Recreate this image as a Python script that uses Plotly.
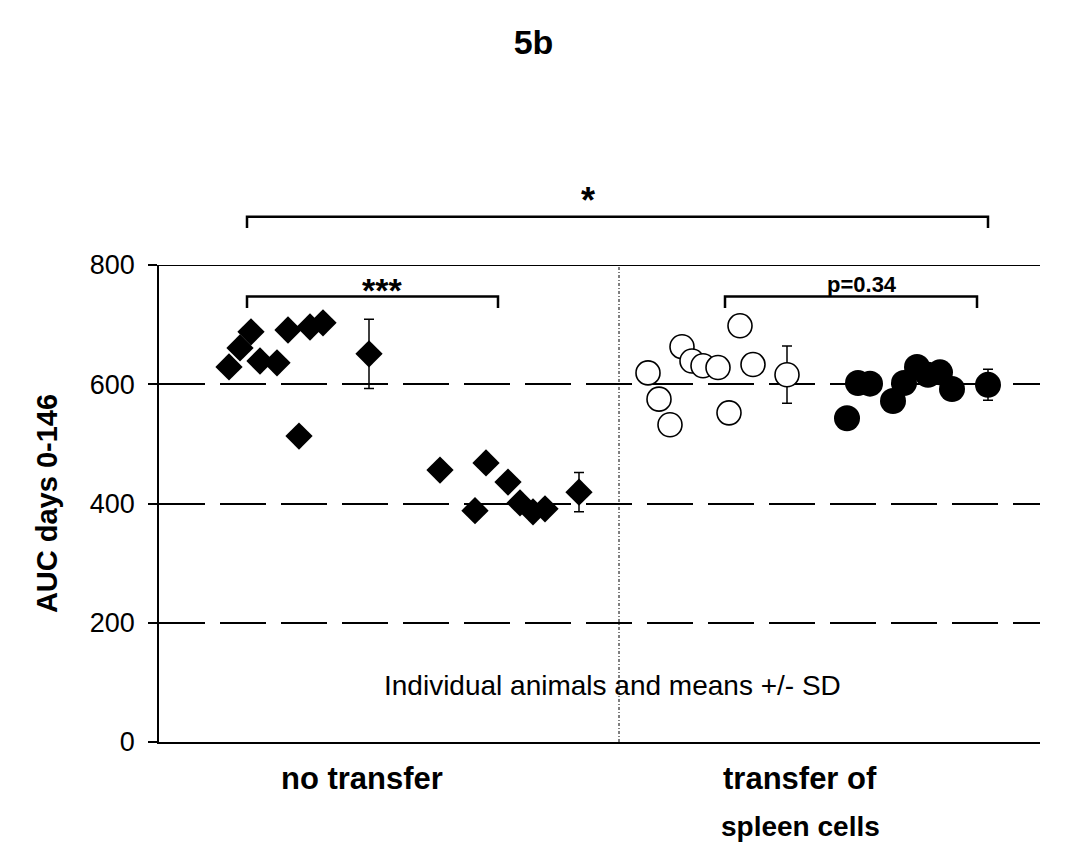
import plotly.graph_objects as go

# ---------------- data ----------------
categories = ["no transfer", "transfer of", "spleen cells"]
category_x = [20.3, 64.1, 64.1]

# group 1: no transfer, high (diamonds)
g1_x = [7.0, 8.1, 9.2, 10.1, 11.8, 12.9, 15.1, 16.4, 14.0]
g1_y = [629, 661, 688, 639, 636, 691, 696, 703, 513]
g1_mean_x, g1_mean, g1_sd = 21.0, 651, 58

# group 2: no transfer, low (diamonds)
g2_x = [28.1, 32.7, 31.6, 34.9, 36.1, 37.4, 38.6]
g2_y = [456, 468, 388, 436, 401, 386, 391]
g2_mean_x, g2_mean, g2_sd = 42.0, 419, 33

# group 3: transfer of spleen cells (open circles)
g3_x = [48.9, 50.0, 51.1, 52.3, 53.3, 54.4, 55.9, 57.0, 58.1, 59.4]
g3_y = [619, 575, 532, 663, 639, 631, 628, 552, 698, 633]
g3_mean_x, g3_mean, g3_sd = 62.8, 616, 48

# group 4: transfer of spleen cells (filled circles)
g4_x = [68.8, 69.9, 71.1, 73.4, 74.5, 75.8, 76.9, 78.1, 79.3]
g4_y = [543, 602, 601, 572, 602, 629, 616, 620, 592]
g4_mean_x, g4_mean, g4_sd = 82.9, 599, 26

y_ticks = [0, 200, 400, 600, 800]
X_MAX = 88.1
Y_MAX = 800
divider_x = 46.0

FONT = "Arial, Liberation Sans, sans-serif"
PLOT_H = 477  # plot area height in px (for offsets below the axis)

fig = go.Figure()

diamond = dict(symbol="diamond", size=21, color="black", line=dict(width=0))
open_circ = dict(symbol="circle", size=24, color="white", line=dict(color="black", width=1.6))
fill_circ = dict(symbol="circle", size=26, color="black", line=dict(width=0))


def add_group(xs, ys, mx, m, sd, marker):
    fig.add_trace(go.Scatter(x=xs, y=ys, mode="markers", marker=marker,
                             showlegend=False, cliponaxis=False, hoverinfo="x+y"))
    fig.add_trace(go.Scatter(x=[mx], y=[m], mode="markers", marker=marker,
                             error_y=dict(type="data", array=[sd], color="black",
                                          thickness=1.5, width=5),
                             showlegend=False, cliponaxis=False))


add_group(g1_x, g1_y, g1_mean_x, g1_mean, g1_sd, diamond)
add_group(g2_x, g2_y, g2_mean_x, g2_mean, g2_sd, diamond)
add_group(g3_x, g3_y, g3_mean_x, g3_mean, g3_sd, open_circ)
add_group(g4_x, g4_y, g4_mean_x, g4_mean, g4_sd, fill_circ)

shapes = []
# top border line at 800
shapes.append(dict(type="line", xref="x", yref="y", x0=0, x1=X_MAX, y0=800, y1=800,
                   line=dict(color="black", width=2), layer="below"))
# vertical divider
shapes.append(dict(type="line", xref="x", yref="y", x0=divider_x, x1=divider_x, y0=0, y1=800,
                   line=dict(color="black", width=1, dash="3px,2px,1px,2px"), layer="below"))


def bracket(x0, x1, ytop, ybot):
    p = lambda v: v / Y_MAX
    shapes.append(dict(type="path", xref="x", yref="paper",
                       path=f"M {x0},{p(ybot)} L {x0},{p(ytop)} L {x1},{p(ytop)} L {x1},{p(ybot)}",
                       line=dict(color="black", width=2.5)))


# brackets (y in data units)
bracket(8.8, 82.9, 881, 862)
bracket(8.8, 33.9, 747, 728)
bracket(56.6, 81.8, 747, 728)

annotations = [
    dict(text="<b>*</b>", x=42.9, y=908 / Y_MAX, xref="x", yref="paper", showarrow=False,
         font=dict(family=FONT, size=36, color="black"), yanchor="middle"),
    dict(text="<b>***</b>", x=22.3, y=758 / Y_MAX, xref="x", yref="paper", showarrow=False,
         font=dict(family=FONT, size=34, color="black"), yanchor="middle"),
    dict(text="<b>p=0.34</b>", x=70.3, y=767 / Y_MAX, xref="x", yref="paper", showarrow=False,
         font=dict(family=FONT, size=22, color="black"), yanchor="middle"),
    dict(text="Individual animals and means +/- SD", x=45.3, y=94, xref="x", yref="y",
         showarrow=False, font=dict(family=FONT, size=28, color="black")),
]
# category labels (pixel offsets below the x axis)
cat_offset_px = [36, 36, 84]
cat_sizes = [31, 31, 28]
for lab, cx, off, sz in zip(categories, category_x, cat_offset_px, cat_sizes):
    annotations.append(dict(text=f"<b>{lab}</b>", x=cx, y=-off / PLOT_H, xref="x",
                            yref="paper", showarrow=False, yanchor="middle",
                            font=dict(family=FONT, size=sz, color="black")))

fig.update_layout(
    width=1067, height=847,
    margin=dict(l=159, r=27, t=265, b=105),
    paper_bgcolor="white", plot_bgcolor="white",
    title=dict(text="<b>5b</b>", x=0.5, xanchor="center", y=1 - 42 / 847, yanchor="middle",
               font=dict(family=FONT, size=34, color="black")),
    shapes=shapes,
    annotations=annotations,
    xaxis=dict(range=[0, X_MAX], showgrid=False, zeroline=False, showticklabels=False,
               showline=True, linecolor="black", linewidth=2, ticks=""),
    yaxis=dict(range=[0, Y_MAX], tickvals=y_ticks, showgrid=True, gridcolor="black",
               gridwidth=2, griddash="46px,15px", zeroline=False, showline=True,
               linecolor="black", linewidth=1.5, ticks="outside", ticklen=9,
               tickcolor="black", tickwidth=1.5, ticklabelstandoff=8,
               tickfont=dict(family=FONT, size=27, color="black"),
               title=dict(text="<b>AUC days 0-146</b>", standoff=24,
                          font=dict(family=FONT, size=29, color="black"))),
    font=dict(family=FONT, color="black"),
)

fig.write_html("out.html")
